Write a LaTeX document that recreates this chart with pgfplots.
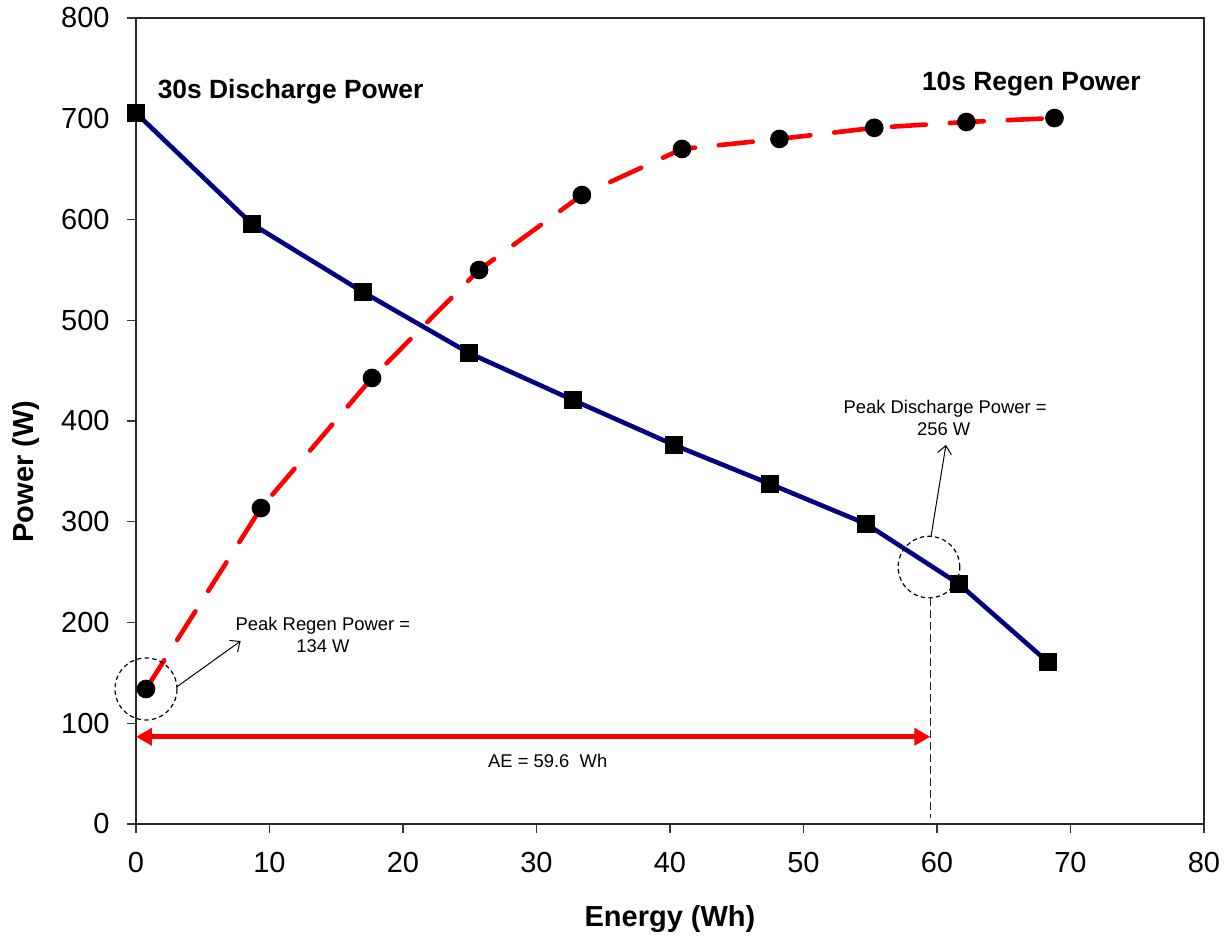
\documentclass[border=0pt]{standalone}
\usepackage{fontspec}
\setmainfont{Liberation Sans}
\usepackage{pgfplots}
\pgfplotsset{compat=1.18}
\usetikzlibrary{arrows.meta}
\definecolor{navyline}{RGB}{0,0,128}
\begin{document}
\begin{tikzpicture}
\begin{axis}[
  name=ax,
  at={(0,0)}, anchor=south west,
  scale only axis,
  width=534pt, height=403pt,
  xmin=0, xmax=80, ymin=0, ymax=800,
  xtick={0,10,...,80}, ytick={0,100,...,800},
  xtick pos=bottom, ytick pos=left,
  tick align=outside,
  major tick length=4.5pt,
  tick style={black!80, line width=0.7pt},
  axis line style={black!85, line width=0.8pt},
  clip=false,
  /pgf/number format/assume math mode=true,
  ticklabel style={font=\fontsize{14.5}{17}\selectfont},
  xticklabel style={anchor=north, inner sep=0pt, yshift=-9.5pt},
  yticklabel style={anchor=east, inner sep=0pt, xshift=-8.5pt},
]
\addplot[navyline, line width=2.3pt, mark=square*, mark size=3.3pt,
  mark options={fill=black, draw=black, solid}] coordinates {
  (0,705.7) (8.69,595.5) (17.0,528) (24.94,467.5) (32.73,420.8)
  (40.3,376.2) (47.5,337.5) (54.7,297.8) (61.65,238.2) (68.3,160.8)
};
\addplot[red, line width=2.3pt, line cap=round, dash pattern=on 17pt off 12pt,
  mark=*, mark size=3.5pt,
  mark options={fill=black, draw=black, solid}] coordinates {
  (0.75,134) (9.36,313.6) (17.68,442.7) (25.7,549.9) (33.4,624.3)
  (40.9,670) (48.2,680) (55.3,691) (62.2,696.8) (68.8,700.7)
};
% annotations
\node[anchor=base west, inner sep=0pt, font=\bfseries\fontsize{13.2}{15}\selectfont]
  at (axis cs:1.6,720.3) {30s Discharge Power};
\node[anchor=base west, inner sep=0pt, font=\bfseries\fontsize{13.2}{15}\selectfont]
  at (axis cs:58.85,728.5) {10s Regen Power};
\node[anchor=base, inner sep=0pt, font=\fontsize{9.2}{11}\selectfont]
  at (axis cs:14.0,191.6) {Peak Regen Power =};
\node[anchor=base, inner sep=0pt, font=\fontsize{9.2}{11}\selectfont]
  at (axis cs:14.0,170.4) {134 W};
\node[anchor=base, inner sep=0pt, font=\fontsize{9.2}{11}\selectfont]
  at (axis cs:60.61,407.6) {Peak Discharge Power =};
\node[anchor=base, inner sep=0pt, font=\fontsize{9.2}{11}\selectfont]
  at (axis cs:60.5,386.1) {256 W};
\node[anchor=base, inner sep=0pt, font=\fontsize{9.2}{11}\selectfont]
  at (axis cs:30.84,56.3) {AE = 59.6\ \ Wh};
% circles and arrows
\draw[black, line width=0.6pt, dash pattern=on 2.2pt off 1.6pt] (axis cs:0.75,134) circle[radius=15.5pt];
\draw[black, line width=0.6pt, dash pattern=on 2.2pt off 1.6pt] (axis cs:59.4,255) circle[radius=15.4pt];
\draw[black, line width=0.5pt, -{Straight Barb[length=4pt,width=7pt]}] (axis cs:3.04,136.0) -- (axis cs:7.84,181.6);
\draw[black, line width=0.5pt, -{Straight Barb[length=4pt,width=7pt]}] (axis cs:59.55,285.3) -- (axis cs:60.67,376.2);
\draw[black!85, line width=0.6pt, dash pattern=on 4pt off 2pt] (axis cs:59.5,224) -- (axis cs:59.5,6);
\draw[red, line width=2.7pt, {Triangle[length=8pt,width=8.5pt]}-{Triangle[length=8pt,width=8.5pt]}]
  (axis cs:0,86.6) -- (axis cs:59.5,86.6);
\end{axis}
\node[anchor=base, inner sep=0pt, font=\bfseries\fontsize{14.5}{17}\selectfont]
  at ([yshift=-51.35pt]ax.south) {Energy (Wh)};
\node[anchor=base, rotate=90, inner sep=0pt, font=\bfseries\fontsize{14.5}{17}\selectfont]
  at ([xshift=-51pt,yshift=176.25pt]ax.south west) {Power (W)};
\pgfresetboundingbox
\useasboundingbox ([xshift=-68pt,yshift=-56.5pt]ax.south west) rectangle ([xshift=546pt,yshift=412pt]ax.south west);
\end{tikzpicture}
\end{document}
